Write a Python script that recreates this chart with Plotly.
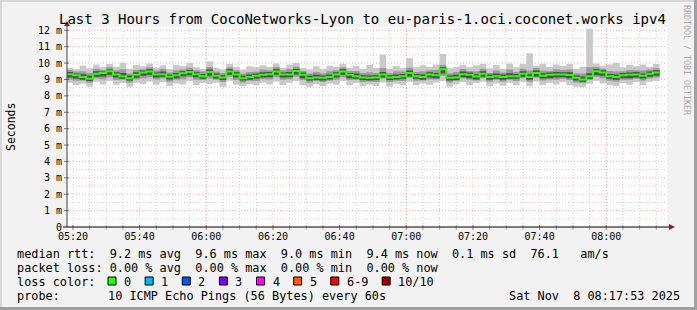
import plotly.graph_objects as go
import pandas as pd

# ---------------- data ----------------
TITLE = "Last 3 Hours from CocoNetworks-Lyon to eu-paris-1.oci.coconet.works ipv4"
START = "2025-11-08 05:18:00"
STEP = "2min"
X_RANGE = ["2025-11-08 05:18:13", "2025-11-08 08:18:13"]

median_ms = [9.32, 9.25, 9.15, 9.05, 9.35, 9.40, 9.50, 9.30, 9.20, 9.08,
             9.28, 9.42, 9.48, 9.30, 9.32, 9.16, 9.25, 9.38, 9.45, 9.32,
             9.20, 9.45, 9.22, 9.12, 9.48, 9.30, 9.08, 9.15, 9.22, 9.28,
             9.32, 9.48, 9.30, 9.30, 9.52, 9.28, 9.08, 9.12, 9.10, 9.15,
             9.30, 9.48, 9.28, 9.20, 9.12, 9.10, 9.12, 9.30, 9.12, 9.15,
             9.20, 9.40, 9.20, 9.15, 9.30, 9.25, 9.62, 9.10, 9.12, 9.32,
             9.28, 9.18, 9.35, 9.15, 9.20, 9.15, 9.20, 9.20, 9.35, 9.15,
             9.40, 9.22, 9.28, 9.30, 9.30, 9.27, 9.10, 9.00, 9.20, 9.50,
             9.42, 9.20, 9.15, 9.25, 9.28, 9.30, 9.22, 9.35, 9.42]

outer_hi_ms = [9.70, 9.62, 9.85, 9.68, 9.92, 9.75, 9.95, 9.78, 10.02, 9.66,
               9.88, 9.80, 9.98, 9.72, 9.86, 9.64, 9.90, 9.82, 10.00, 9.74,
               9.66, 10.10, 9.70, 9.62, 9.95, 9.76, 9.60, 9.80, 9.74, 9.86,
               9.78, 9.98, 9.72, 9.90, 10.00, 9.70, 9.62, 9.80, 9.64, 9.84,
               9.76, 9.96, 9.72, 9.84, 9.66, 9.88, 9.70, 10.50, 9.66, 9.82,
               9.72, 10.30, 9.74, 9.86, 9.76, 9.92, 10.55, 9.68, 9.78, 9.90,
               9.74, 9.86, 9.94, 9.68, 9.88, 9.66, 9.98, 9.74, 9.94, 10.60,
               9.84, 9.96, 9.76, 9.92, 9.82, 9.94, 9.66, 9.78, 12.10, 9.98,
               9.84, 9.92, 10.00, 9.74, 9.90, 9.80, 9.92, 9.78, 9.94]

outer_lo_ms = [8.80, 8.66, 8.74, 8.56, 8.86, 8.70, 8.90, 8.68, 8.78, 8.55,
               8.80, 8.72, 8.88, 8.68, 8.84, 8.60, 8.76, 8.70, 8.90, 8.66,
               8.78, 8.72, 8.80, 8.56, 8.92, 8.68, 8.58, 8.72, 8.64, 8.80,
               8.70, 8.88, 8.66, 8.80, 8.90, 8.64, 8.55, 8.72, 8.58, 8.76,
               8.68, 8.90, 8.64, 8.78, 8.58, 8.70, 8.60, 8.82, 8.56, 8.74,
               8.64, 8.86, 8.66, 8.76, 8.68, 8.82, 8.90, 8.55, 8.70, 8.84,
               8.66, 8.78, 8.86, 8.58, 8.76, 8.62, 8.80, 8.64, 8.86, 8.58,
               8.88, 8.66, 8.80, 8.70, 8.84, 8.64, 8.56, 8.52, 8.74, 8.92,
               8.76, 8.64, 8.58, 8.78, 8.68, 8.84, 8.64, 8.86, 8.90]

mid_hi_ms = [9.58, 9.48, 9.50, 9.40, 9.66, 9.58, 9.74, 9.56, 9.62, 9.36,
             9.58, 9.62, 9.74, 9.54, 9.64, 9.42, 9.56, 9.60, 9.72, 9.56,
             9.48, 9.76, 9.48, 9.40, 9.74, 9.56, 9.36, 9.46, 9.48, 9.60,
             9.56, 9.76, 9.54, 9.64, 9.78, 9.52, 9.36, 9.46, 9.38, 9.50,
             9.56, 9.74, 9.52, 9.52, 9.40, 9.44, 9.40, 9.70, 9.38, 9.50,
             9.48, 9.72, 9.46, 9.50, 9.56, 9.58, 9.88, 9.38, 9.46, 9.64,
             9.52, 9.50, 9.66, 9.40, 9.54, 9.42, 9.60, 9.46, 9.66, 9.54,
             9.70, 9.54, 9.52, 9.62, 9.58, 9.60, 9.38, 9.36, 9.74, 9.76,
             9.66, 9.52, 9.48, 9.50, 9.58, 9.56, 9.54, 9.60, 9.68]

mid_lo_ms = [9.00, 8.92, 8.94, 8.80, 9.06, 9.02, 9.14, 8.96, 8.98, 8.82,
             9.00, 9.06, 9.14, 9.00, 9.06, 8.86, 8.98, 9.02, 9.14, 8.98,
             8.96, 9.06, 8.98, 8.84, 9.16, 8.96, 8.82, 8.92, 8.90, 9.02,
             9.00, 9.14, 8.98, 9.02, 9.16, 8.96, 8.82, 8.90, 8.84, 8.94,
             8.98, 9.14, 8.96, 8.98, 8.84, 8.88, 8.84, 9.04, 8.84, 8.92,
             8.90, 9.10, 8.92, 8.94, 9.00, 9.00, 9.22, 8.82, 8.90, 9.06,
             8.98, 8.94, 9.08, 8.86, 8.98, 8.86, 8.98, 8.90, 9.08, 8.86,
             9.10, 8.94, 9.00, 8.98, 9.04, 8.96, 8.82, 8.78, 8.96, 9.16,
             9.06, 8.92, 8.88, 8.98, 8.98, 9.04, 8.94, 9.06, 9.12]

inner_hi_ms = [9.45, 9.36, 9.32, 9.22, 9.50, 9.48, 9.60, 9.44, 9.40, 9.24,
               9.44, 9.54, 9.62, 9.42, 9.48, 9.30, 9.40, 9.50, 9.58, 9.44,
               9.34, 9.60, 9.36, 9.26, 9.62, 9.44, 9.22, 9.30, 9.36, 9.44,
               9.46, 9.62, 9.42, 9.46, 9.64, 9.42, 9.22, 9.28, 9.24, 9.30,
               9.44, 9.62, 9.40, 9.36, 9.26, 9.24, 9.26, 9.46, 9.26, 9.30,
               9.34, 9.54, 9.34, 9.30, 9.44, 9.40, 9.74, 9.24, 9.28, 9.48,
               9.42, 9.32, 9.50, 9.30, 9.36, 9.30, 9.38, 9.34, 9.50, 9.32,
               9.54, 9.38, 9.42, 9.46, 9.44, 9.44, 9.24, 9.18, 9.38, 9.62,
               9.56, 9.34, 9.30, 9.40, 9.42, 9.46, 9.36, 9.48, 9.56]

inner_lo_ms = [9.12, 9.06, 8.98, 8.90, 9.16, 9.18, 9.28, 9.12, 9.04, 8.94,
               9.10, 9.22, 9.28, 9.12, 9.16, 9.00, 9.08, 9.20, 9.26, 9.14,
               9.04, 9.22, 9.06, 8.96, 9.28, 9.12, 8.94, 8.98, 9.06, 9.12,
               9.14, 9.28, 9.12, 9.14, 9.30, 9.08, 8.94, 8.96, 8.94, 9.00,
               9.12, 9.28, 9.08, 9.04, 8.96, 8.94, 8.96, 9.12, 8.96, 9.00,
               9.04, 9.18, 9.04, 8.98, 9.12, 9.08, 9.36, 8.94, 8.96, 9.14,
               9.08, 9.00, 9.16, 8.98, 9.04, 8.98, 9.04, 9.04, 9.16, 8.98,
               9.18, 9.06, 9.08, 9.12, 9.14, 9.08, 8.94, 8.86, 9.04, 9.26,
               9.22, 9.04, 8.98, 9.08, 9.08, 9.12, 9.06, 9.16, 9.22]

y_tick_values = [0, 1, 2, 3, 4, 5, 6, 7, 8, 9, 10, 11, 12]
y_tick_labels = ["0", "1 m", "2 m", "3 m", "4 m", "5 m", "6 m", "7 m",
                 "8 m", "9 m", "10 m", "11 m", "12 m"]
x_tick_values = ["2025-11-08 05:20", "2025-11-08 05:40", "2025-11-08 06:00",
                 "2025-11-08 06:20", "2025-11-08 06:40", "2025-11-08 07:00",
                 "2025-11-08 07:20", "2025-11-08 07:40", "2025-11-08 08:00"]
x_tick_labels = ["05:20", "05:40", "06:00", "06:20", "06:40", "07:00",
                 "07:20", "07:40", "08:00"]

stats_rtt = "median rtt:  9.2 ms avg  9.6 ms max  9.0 ms min  9.4 ms now  0.1 ms sd  76.1   am/s"
stats_loss = "packet loss: 0.00 % avg  0.00 % max  0.00 % min  0.00 % now"
loss_title = "loss color:"
loss_labels = ["0", "1", "2", "3", "4", "5", "6-9", "10/10"]
loss_colors = ["#26ff00", "#00b8ff", "#0059ff", "#7e00ff", "#ff00ff",
               "#ff5e00", "#ff0000", "#a10000"]
probe_label = "probe:"
probe_text = "10 ICMP Echo Pings (56 Bytes) every 60s"
date_text = "Sat Nov  8 08:17:53 2025"
side_text = "RRDTOOL / TOBI OETIKER"

# ---------------- layout geometry ----------------
W, H = 697, 310
L, R, T, B = 67, 30, 27, 83
PW, PH = W - L - R, H - T - B
Y0 = H - B  # pixel row of y=0
MONO = "DejaVu Sans Mono"


def px(x):
    return (x - L) / PW


def py(y):
    return (Y0 - y) / PH


times = pd.date_range(START, periods=len(median_ms) + 1, freq=STEP)


def ext(a):
    return list(a) + [a[-1]]


fig = go.Figure()

bands = [
    (outer_lo_ms, outer_hi_ms, "#c9c9c9"),
    (mid_lo_ms, mid_hi_ms, "#9a9a9a"),
    (inner_lo_ms, inner_hi_ms, "#4e4e4e"),
]
for lo, hi, col in bands:
    fig.add_trace(go.Scatter(x=times, y=ext(lo), mode="lines",
                             line=dict(width=0, shape="hv"),
                             hoverinfo="skip", showlegend=False))
    fig.add_trace(go.Scatter(x=times, y=ext(hi), mode="lines",
                             line=dict(width=0, shape="hv"),
                             fill="tonexty", fillcolor=col,
                             hoverinfo="skip", showlegend=False))

fig.add_trace(go.Scatter(x=times, y=ext(median_ms), mode="lines",
                         line=dict(width=2, shape="hv", color="#26ff00"),
                         showlegend=False))

shapes = []
# vertical grid
grid_times = pd.date_range("2025-11-08 05:20", "2025-11-08 08:15", freq="5min")
for t in grid_times:
    if t.minute == 0:
        col = "rgba(255,0,0,0.45)"
    elif t.minute % 20 == 0:
        col = "rgba(240,90,90,0.30)"
    else:
        col = "rgba(120,120,120,0.35)"
    shapes.append(dict(type="line", xref="x", yref="paper", x0=t, x1=t,
                       y0=0, y1=1, layer="below",
                       line=dict(color=col, width=1, dash="1px,2px")))
    tcol = "rgba(220,60,60,0.8)" if t.minute % 20 == 0 else "rgba(120,120,120,0.6)"
    shapes.append(dict(type="line", xref="x", yref="paper", x0=t, x1=t,
                       y0=py(Y0 + 3), y1=py(Y0 - 2),
                       line=dict(color=tcol, width=1)))
# horizontal grid
for k in range(1, 25):
    v = k * 0.5
    col = "rgba(255,0,0,0.35)" if k % 2 == 0 else "rgba(120,120,120,0.35)"
    shapes.append(dict(type="line", xref="paper", yref="y", x0=0, x1=1,
                       y0=v, y1=v, layer="below",
                       line=dict(color=col, width=1, dash="1px,2px")))
    if k % 2 == 0:
        shapes.append(dict(type="line", xref="paper", yref="y",
                           x0=px(L - 3), x1=px(L + 2), y0=v, y1=v,
                           line=dict(color="rgba(90,90,90,0.8)", width=1)))

# axes
shapes.append(dict(type="line", xref="paper", yref="paper", x0=0, x1=0,
                   y0=0, y1=py(25), line=dict(color="#404040", width=1)))
shapes.append(dict(type="line", xref="paper", yref="paper", x0=px(L - 4),
                   x1=px(670), y0=0, y1=0, line=dict(color="#000000", width=1)))
shapes.append(dict(type="path", xref="paper", yref="paper",
                   path=f"M {px(64)} {py(26)} L {px(70)} {py(26)} L {px(67)} {py(21)} Z",
                   fillcolor="#9a1a1a", line=dict(width=0)))
shapes.append(dict(type="path", xref="paper", yref="paper",
                   path=f"M {px(669)} {py(Y0 - 3)} L {px(669)} {py(Y0 + 3)} L {px(675)} {py(Y0)} Z",
                   fillcolor="#9a1a1a", line=dict(width=0)))

# frame
shapes.append(dict(type="rect", xref="paper", yref="paper", x0=px(0), x1=px(W),
                   y0=py(0), y1=py(2), fillcolor="#d6d6d6", line=dict(width=0)))
shapes.append(dict(type="rect", xref="paper", yref="paper", x0=px(0), x1=px(2),
                   y0=py(0), y1=py(H), fillcolor="#d6d6d6", line=dict(width=0)))
shapes.append(dict(type="rect", xref="paper", yref="paper", x0=px(W - 3), x1=px(W),
                   y0=py(0), y1=py(H), fillcolor="#a0a0a0", line=dict(width=0)))
shapes.append(dict(type="rect", xref="paper", yref="paper", x0=px(0), x1=px(W),
                   y0=py(H - 3), y1=py(H), fillcolor="#a0a0a0", line=dict(width=0)))

# loss color boxes
annotations = []
CW = 7.13
cursor = 108
for lab, col in zip(loss_labels, loss_colors):
    shapes.append(dict(type="rect", xref="paper", yref="paper",
                       x0=px(cursor), x1=px(cursor + 8), y0=py(277), y1=py(285),
                       fillcolor=col, line=dict(color="#000000", width=1)))
    annotations.append(dict(x=px(cursor + 14), y=py(282), xref="paper", yref="paper",
                            text=lab, showarrow=False, xanchor="left", yanchor="middle",
                            font=dict(family=MONO, size=11.85, color="#000")))
    cursor = cursor + 15 + len(lab) * CW + 15


def txt(x, y, s, size=11.85, anchor="left", color="#000", angle=0):
    annotations.append(dict(x=px(x), y=py(y), xref="paper", yref="paper", text=s,
                            showarrow=False, xanchor=anchor, yanchor="middle",
                            textangle=angle,
                            font=dict(family=MONO, size=size, color=color)))


txt(362.5, 19, TITLE, size=14, anchor="center")
txt(14.5, 254, stats_rtt.replace(" ", "&nbsp;"))
txt(14.5, 268, stats_loss.replace(" ", "&nbsp;"))
txt(14.5, 282, loss_title.replace(" ", "&nbsp;"))
txt(14.5, 296, probe_label)
txt(106, 296, probe_text.replace(" ", "&nbsp;"))
txt(682, 296, date_text.replace(" ", "&nbsp;"), anchor="right")
txt(11, 127, "Seconds", size=11.5, anchor="center", angle=-90)
txt(687, 60, side_text.replace(" ", "&nbsp;"), size=8.3, anchor="center",
    color="#a8a8a8", angle=90)

fig.update_layout(
    width=W, height=H,
    margin=dict(l=L, r=R, t=T, b=B, pad=0),
    paper_bgcolor="#f2f2f2",
    plot_bgcolor="#ffffff",
    showlegend=False,
    shapes=shapes,
    annotations=annotations,
    xaxis=dict(type="date", range=X_RANGE, showgrid=False, zeroline=False,
               showline=False, ticks="", tickmode="array",
               tickvals=x_tick_values, ticktext=x_tick_labels,
               tickfont=dict(family=MONO, size=10, color="#000"),
               ticklabelstandoff=2),
    yaxis=dict(range=[0, 12.2], showgrid=False, zeroline=False, showline=False,
               ticks="", tickmode="array", tickvals=y_tick_values,
               ticktext=y_tick_labels,
               tickfont=dict(family=MONO, size=10, color="#000"),
               ticklabelstandoff=4),
)

fig.write_html("out.html")
